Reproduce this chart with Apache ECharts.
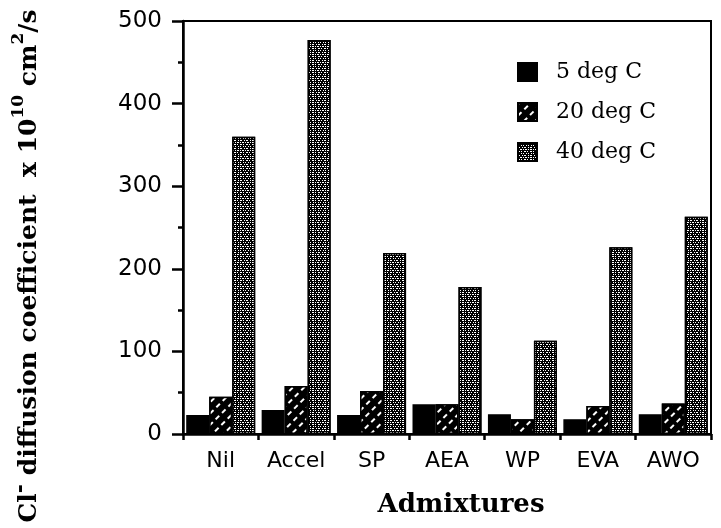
<!DOCTYPE html>
<html>
<head>
<meta charset="utf-8">
<script src="https://cdn.jsdelivr.net/npm/echarts@6/dist/echarts.min.js"></script>
<style>html,body{margin:0;padding:0;background:#fff;}#c{width:721px;height:528px;}</style>
</head>
<body>
<div id="c"></div>
<script>
const categories = ['Nil', 'Accel', 'SP', 'AEA', 'WP', 'EVA', 'AWO'];
const seriesNames = ['5 deg C', '20 deg C', '40 deg C'];
const values5 = [23, 29, 23, 36, 24, 18, 24];
const values20 = [45, 58, 52, 36, 18, 34, 37];
const values40 = [360, 477, 219, 178, 113, 226, 263];
const yTicks = [0, 100, 200, 300, 400, 500];

const chart = echarts.init(document.getElementById('c'), null, {renderer: 'canvas'});
const sansFont = 'DejaVu Sans';
const serifFont = 'DejaVu Serif';

const decals = [
  null,
  {symbol: 'rect', color: '#ffffff', symbolSize: 1, dashArrayX: [[5, 4]], dashArrayY: [1.2, 6], rotation: -Math.PI / 4},
  {symbol: 'rect', color: '#ffffff', symbolSize: 1,
   dashArrayX: [[1, 1, 2, 1], [2, 1, 1, 2], [1, 2, 1, 1], [2, 2, 1, 1]], dashArrayY: [1, 1], rotation: 0}
];
const dataSets = [values5, values20, values40];

const series = seriesNames.map((n, i) => ({
  name: n,
  type: 'bar',
  data: dataSets[i],
  barWidth: 23,
  barGap: '0%',
  itemStyle: Object.assign({color: '#000', borderColor: '#000', borderWidth: 1.5}, decals[i] ? {decal: decals[i]} : {})
}));

chart.setOption({
  animation: false,
  backgroundColor: '#fff',
  grid: {left: 183, right: 10, top: 21, bottom: 94, show: true, borderColor: '#000', borderWidth: 2},
  legend: {
    orient: 'vertical', left: 512, top: 56,
    itemWidth: 19, itemHeight: 18, itemGap: 18,
    icon: 'rect',
    textStyle: {fontFamily: serifFont, fontSize: 22, color: '#000', padding: [0, 0, 0, 14], lineHeight: 20},
    data: seriesNames
  },
  xAxis: {
    type: 'category', data: categories,
    axisLine: {lineStyle: {color: '#000', width: 2.5}},
    axisTick: {show: true, length: 6, lineStyle: {color: '#000', width: 2.5}},
    axisLabel: {fontFamily: sansFont, fontSize: 22, color: '#000', margin: 16, interval: 0, hideOverlap: false},
    name: 'Admixtures', nameLocation: 'middle', nameGap: 58,
    nameTextStyle: {fontFamily: serifFont, fontWeight: 'bold', fontSize: 26, color: '#000', padding: [0, 0, 0, 28]}
  },
  yAxis: {
    type: 'value', min: 0, max: 500, interval: 100,
    axisLine: {show: true, lineStyle: {color: '#000', width: 2.5}},
    axisTick: {show: true, length: 11, lineStyle: {color: '#000', width: 2.5}},
    minorTick: {show: true, splitNumber: 2, length: 5, lineStyle: {color: '#000', width: 2.5}},
    splitLine: {show: false},
    axisLabel: {fontFamily: sansFont, fontSize: 23, color: '#000', margin: 21,
      formatter: v => (yTicks.indexOf(v) >= 0 ? String(v) : '')}
  },
  graphic: [{
    type: 'text',
    x: 26, y: 266,
    rotation: Math.PI / 2,
    style: {
      text: '{b|Cl}{m|-}{b| diffusion coefficient  x 10}{s|10}{b| cm}{s|2}{b|/s}',
      align: 'center', verticalAlign: 'middle',
      rich: {
        b: {fontFamily: serifFont, fontWeight: 'bold', fontSize: 25, lineHeight: 32, fill: '#000', verticalAlign: 'bottom'},
        s: {fontFamily: serifFont, fontWeight: 'bold', fontSize: 17, lineHeight: 17, fill: '#000', verticalAlign: 'top'},
        m: {fontFamily: serifFont, fontWeight: 'bold', fontSize: 22, lineHeight: 22, fill: '#000', verticalAlign: 'top'}
      }
    }
  }],
  series: series
});
</script>
</body>
</html>
